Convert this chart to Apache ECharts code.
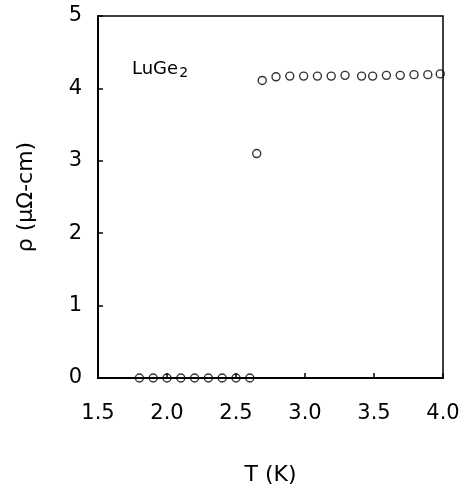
<!DOCTYPE html>
<html>
<head>
<meta charset="utf-8">
<script src="https://cdn.jsdelivr.net/npm/echarts@6/dist/echarts.min.js"></script>
<style>
  html, body { margin: 0; padding: 0; background: #fff; }
  #chart { width: 464px; height: 491px; }
</style>
</head>
<body>
<div id="chart"></div>
<script>
// LuGe2 resistivity vs temperature
const temps = [1.80, 1.90, 2.00, 2.10, 2.20, 2.30, 2.40, 2.50, 2.60,
  2.65,
  2.69, 2.79, 2.89, 2.99, 3.09, 3.19, 3.29, 3.41, 3.49, 3.59, 3.69, 3.79, 3.89, 3.98]
const rho = [0, 0, 0, 0, 0, 0, 0, 0, 0,
  3.10,
  4.11, 4.16, 4.17, 4.17, 4.17, 4.17, 4.18, 4.17, 4.17, 4.18, 4.18, 4.19, 4.19, 4.20]
const xTicks = ['1.5', '2.0', '2.5', '3.0', '3.5', '4.0']
const yTicks = ['0', '1', '2', '3', '4', '5']

const font = 'DejaVu Sans, sans-serif'
const chart = echarts.init(document.getElementById('chart'))

chart.setOption({
  animation: false,
  backgroundColor: '#fff',
  title: {
    text: '{a|LuGe}{b|2}',
    left: 127,
    top: 53,
    textStyle: {
      rich: {
        a: { fontFamily: font, fontSize: 18, fontWeight: 'normal', color: '#000' },
        b: { fontFamily: font, fontSize: 14, fontWeight: 'normal', color: '#000', padding: [8, 0, 0, 1] }
      }
    }
  },
  grid: {
    left: 98, right: 21, top: 16, bottom: 111,
    show: true, borderColor: '#000', borderWidth: 1.5
  },
  xAxis: {
    type: 'value',
    min: 1.5,
    max: 4.0,
    interval: 0.5,
    name: 'T (K)',
    nameLocation: 'middle',
    nameGap: 86,
    nameTextStyle: { fontFamily: font, fontSize: 22, color: '#000' },
    axisLine: { lineStyle: { color: '#000', width: 2 } },
    axisTick: { inside: true, length: 5, lineStyle: { color: '#000', width: 1.5 } },
    axisLabel: {
      fontFamily: font, fontSize: 21, color: '#000', margin: 25,
      formatter: (v) => xTicks[Math.round((v - 1.5) / 0.5)]
    },
    splitLine: { show: false }
  },
  yAxis: {
    type: 'value',
    min: 0,
    max: 5,
    interval: 1,
    name: 'ρ (μΩ-cm)',
    nameLocation: 'middle',
    nameGap: 61,
    nameTextStyle: { fontFamily: font, fontSize: 22, color: '#000' },
    axisLine: { show: true, lineStyle: { color: '#000', width: 2 } },
    axisTick: { show: true, inside: true, length: 5, lineStyle: { color: '#000', width: 1.5 } },
    axisLabel: {
      fontFamily: font, fontSize: 21, color: '#000', margin: 16,
      formatter: (v) => yTicks[Math.round(v)]
    },
    splitLine: { show: false }
  },
  series: [
    {
      type: 'scatter',
      data: temps.map((t, i) => [t, rho[i]]),
      symbol: 'circle',
      symbolSize: 8,
      clip: false,
      itemStyle: { color: 'transparent', borderColor: '#000', borderWidth: 1.4 }
    }
  ]
})
</script>
</body>
</html>
